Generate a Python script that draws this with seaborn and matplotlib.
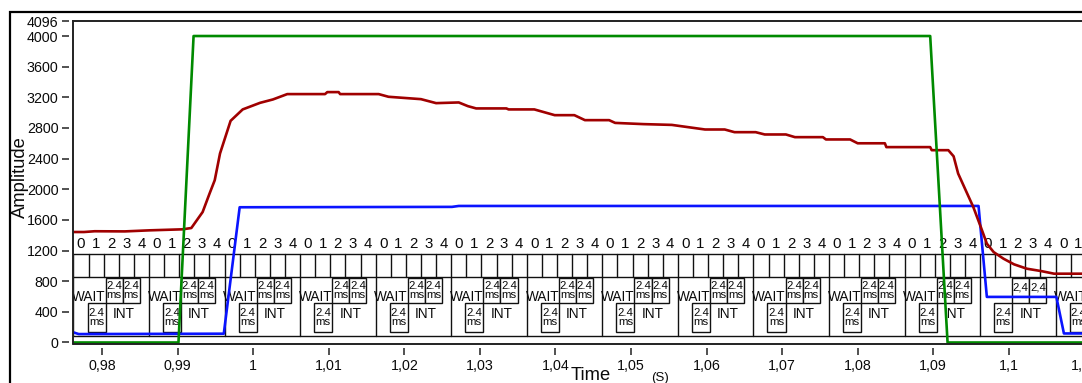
import matplotlib
matplotlib.use("Agg")
import matplotlib.pyplot as plt
from matplotlib import font_manager as fm
import numpy as np
import pandas as pd
import seaborn as sns
from matplotlib.patches import Rectangle

# ---------------- data ----------------
red_t = [0.9761, 0.9776, 0.9790, 0.9830, 0.9863, 0.9906, 0.9918, 0.9933, 0.9942, 0.9949,
         0.9956, 0.9970, 0.9986, 1.0009, 1.0026, 1.0045, 1.0095, 1.0098, 1.0113, 1.0115,
         1.0166, 1.0179, 1.0222, 1.0242, 1.0272, 1.0284, 1.0295, 1.0335, 1.0338, 1.0372,
         1.0399, 1.0425, 1.0439, 1.0471, 1.0479, 1.0517, 1.0554, 1.0598, 1.0624, 1.0637,
         1.0665, 1.0677, 1.0705, 1.0717, 1.0754, 1.0758, 1.0790, 1.0800, 1.0836, 1.0838,
         1.0896, 1.0898, 1.0920, 1.0927, 1.0933, 1.0944, 1.0953, 1.0963, 1.0971, 1.0980,
         1.0993, 1.1007, 1.1024, 1.1043, 1.1060, 1.1134]
red_v = [1442, 1442, 1452, 1450, 1464, 1477, 1494, 1703, 1940, 2118,
         2467, 2893, 3042, 3128, 3172, 3242, 3242, 3268, 3268, 3242,
         3242, 3207, 3176, 3124, 3133, 3085, 3055, 3055, 3042, 3042,
         2967, 2967, 2902, 2902, 2866, 2850, 2840, 2780, 2780, 2745,
         2745, 2715, 2715, 2680, 2680, 2650, 2650, 2600, 2600, 2550,
         2550, 2510, 2510, 2430, 2205, 1965, 1770, 1507, 1290, 1180,
         1094, 1020, 963, 932, 898, 898]

green_t = [0.9761, 0.9901, 0.9921, 1.0896, 1.0919, 1.1134]
green_v = [0, 0, 4000, 4000, 0, 0]

blue_t = [0.9761, 0.9769, 0.9961, 0.9982, 1.0263, 1.0272, 1.0960, 1.0971, 1.1063, 1.1073, 1.1134]
blue_v = [135, 110, 115, 1765, 1770, 1782, 1782, 595, 595, 118, 118]

x_ticks = [0.98, 0.99, 1.00, 1.01, 1.02, 1.03, 1.04, 1.05, 1.06, 1.07, 1.08, 1.09, 1.10, 1.11]
x_tick_labels = ["0,98", "0,99", "1", "1,01", "1,02", "1,03", "1,04", "1,05", "1,06",
                 "1,07", "1,08", "1,09", "1,1", "1,11"]
y_ticks = [0, 400, 800, 1200, 1600, 2000, 2400, 2800, 3200, 3600, 4000]
y_top_label = "4096"

cycle_starts = [0.9762, 0.9862, 0.9962, 1.0062, 1.0162, 1.0262, 1.0362, 1.0462,
                1.0562, 1.0662, 1.0762, 1.0862, 1.0962, 1.1062]
slot_labels = ["0", "1", "2", "3", "4"]
wait_label = "WAIT"
int_label = "INT"
dur_label = "2.4\nms"

# ---------------- style ----------------
sns.set_theme(style="white")
installed = {f.name for f in fm.fontManager.ttflist}
if "Liberation Sans Narrow" in installed:
    main_font, k = "Liberation Sans Narrow", 1.15
else:
    main_font, k = "Liberation Sans", 1.0
plt.rcParams["font.family"] = [main_font, "DejaVu Sans"]

W, H = 1082, 383
fig = plt.figure(figsize=(W / 100, H / 100), dpi=100)
x_left, x_right = 0.97614, 1.1134
y_bot, y_top = -19.6, 4196
ax = fig.add_axes([73 / W, 1 - 344 / H, (1110 - 73) / W, (344 - 21) / H])
ax.set_xlim(x_left, x_right)
ax.set_ylim(y_bot, y_top)

# timing diagram geometry (amplitude units / seconds)
digit_v = 1285
slot_top, slot_bot = 1155, 855
box_bot = 85
slot_w = 0.002
lc = "#111111"
tc = "#0a0a0a"
dlw = 1.0
fs_digit = 10.8 * k
fs_txt = 9.8 * k
fs_box = 8.2 * k

ax.plot([x_left, x_right], [slot_top, slot_top], color=lc, lw=dlw, zorder=2)
ax.plot([x_left, x_right], [slot_bot, slot_bot], color=lc, lw=dlw, zorder=2)
ax.plot([x_left, x_right], [box_bot, box_bot], color=lc, lw=dlw, zorder=2)

for i, c in enumerate(cycle_starts):
    for kk, lab in enumerate(slot_labels):
        x0 = c + kk * slot_w
        ax.plot([x0, x0], [slot_bot, slot_top], color=lc, lw=dlw, zorder=2)
        ax.text(x0 + slot_w / 2, digit_v, lab, ha="center", va="center",
                fontsize=fs_digit, color=tc, zorder=3)
    ax.plot([c, c], [box_bot, slot_bot], color=lc, lw=dlw, zorder=2)
    special = (i == len(cycle_starts) - 2)
    if not special:
        ax.text(c + 0.00206, 594, wait_label, ha="center", va="center",
                fontsize=fs_txt, color=tc, zorder=3)
    ax.text(c + 0.00665, 372, int_label, ha="center", va="center",
            fontsize=fs_txt, color=tc, zorder=3)
    boxes = [(0.00426, 0.00652, 515, 842), (0.00652, 0.00878, 515, 842),
             (0.00186, 0.00426, 137, 515)]
    for j, (a, b, lo, hi) in enumerate(boxes):
        ax.add_patch(Rectangle((c + a, lo), b - a, hi - lo, fill=True, fc="white",
                               ec=lc, lw=dlw, zorder=2.5))
        if special and j < 2:
            ax.text(c + (a + b) / 2, 724, "2,4", ha="center", va="center",
                    fontsize=fs_box, color=tc, zorder=3)
        else:
            ax.text(c + (a + b) / 2, (lo + hi) / 2, dur_label, ha="center", va="center",
                    fontsize=fs_box, linespacing=0.85, color=tc, zorder=3)

# ---------------- series ----------------
df = pd.concat([
    pd.DataFrame({"t": blue_t, "v": blue_v, "s": "blue"}),
    pd.DataFrame({"t": red_t, "v": red_v, "s": "red"}),
    pd.DataFrame({"t": green_t, "v": green_v, "s": "green"}),
], ignore_index=True)
palette = {"blue": "#0a14ff", "red": "#a00000", "green": "#008a00"}
for s in ["blue", "red", "green"]:
    sns.lineplot(data=df[df.s == s], x="t", y="v", color=palette[s], estimator=None,
                 sort=False, lw=1.9, ax=ax, zorder=5, legend=False)

# ---------------- axes ----------------
ax.spines["right"].set_visible(False)
ax.spines["top"].set_color("#222222")
ax.spines["top"].set_linewidth(1.4)
for sp in ["left", "bottom"]:
    ax.spines[sp].set_position(("outward", 3))
    ax.spines[sp].set_linewidth(0)
ax.plot([0, 0], [0, 1], transform=ax.transAxes, color="#222222", lw=1.4, clip_on=False, zorder=6)
ax.plot([0, 1], [0, 0], transform=ax.transAxes, color="#222222", lw=1.4, clip_on=False, zorder=6)

ax.set_xticks(x_ticks)
ax.set_xticklabels(x_tick_labels)
ax.set_yticks(y_ticks + [y_top])
ax.set_yticklabels([str(v) for v in y_ticks] + [y_top_label])
ax.tick_params(axis="both", direction="out", length=5, width=1.1, color="#222222",
               labelsize=10.3 * k, labelcolor=tc, pad=2.5,
               bottom=True, left=True, top=False, right=False)
ax.set_xlabel("")
ax.set_ylabel("")
ax.grid(False)

fig.text(20 / W, 1 - 177 / H, "Amplitude", rotation=90, ha="center", va="center",
         fontsize=13.2 * k, color=tc)
fig.text(591 / W, 1 - 375 / H, "Time", ha="center", va="center", fontsize=13.2 * k,
         color=tc)
fig.text(660 / W, 1 - 378 / H, "(S)", ha="center", va="center", fontsize=9.5 * k,
         color=tc)

fig.add_artist(Rectangle((10 / W, -0.2), 1.5, 1.2 - 12 / H, transform=fig.transFigure,
                         fill=False, ec="black", lw=1.6))

fig.savefig("out.png", dpi=100, facecolor="white")
